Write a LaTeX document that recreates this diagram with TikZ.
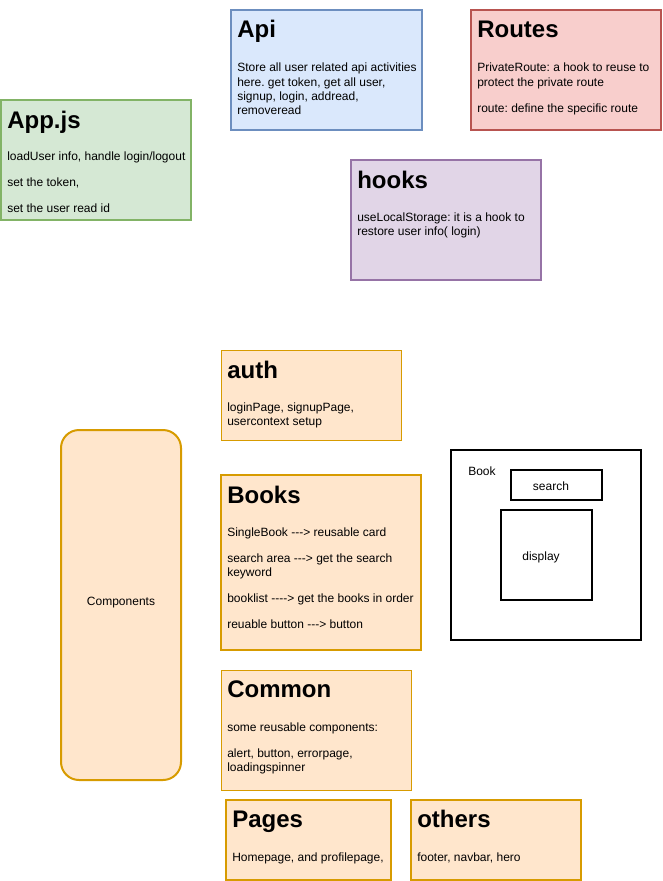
\documentclass[tikz,border=0pt]{standalone}
\usepackage{fontspec}
\setmainfont{Liberation Sans}
\usetikzlibrary{fit}
\frenchspacing
\definecolor{gfill}{HTML}{D5E8D4}\definecolor{gline}{HTML}{82B366}
\definecolor{bfill}{HTML}{DAE8FC}\definecolor{bline}{HTML}{6C8EBF}
\definecolor{rfill}{HTML}{F8CECC}\definecolor{rline}{HTML}{B85450}
\definecolor{pfill}{HTML}{E1D5E7}\definecolor{pline}{HTML}{9673A6}
\definecolor{ofill}{HTML}{FFE6CC}\definecolor{oline}{HTML}{D79B00}
\tikzset{
  box/.style={inner sep=0pt, outer sep=0pt, line width=1.5pt},
  thinbox/.style={inner sep=0pt, outer sep=0pt, line width=0.75pt},
  greenbox/.style={box, fill=gfill, draw=gline},
  bluebox/.style={box, fill=bfill, draw=bline},
  redbox/.style={box, fill=rfill, draw=rline},
  purplebox/.style={box, fill=pfill, draw=pline},
  orangebox/.style={box, fill=ofill, draw=oline},
  orangethin/.style={thinbox, fill=ofill, draw=oline},
  blackbox/.style={box, draw=black, fill=white},
  ttl/.style={anchor=base west, inner sep=0pt, font=\fontsize{18}{21.6}\selectfont\bfseries},
  txt/.style={anchor=base west, inner sep=0pt, font=\fontsize{9}{10.5}\selectfont},
  ctxt/.style={anchor=base, inner sep=0pt, font=\fontsize{9}{10.5}\selectfont},
}
\begin{document}
\frenchspacing
\begin{tikzpicture}[x=0.75pt, y=-0.75pt]
\useasboundingbox (0,0) rectangle (662,881);
% boxes
\node[greenbox, fit={(1,100) (191,220)}] (appbox) {};
\node[bluebox, fit={(231,10) (422,130)}] (apibox) {};
\node[redbox, fit={(471,10) (661,130)}] (routesbox) {};
\node[purplebox, fit={(351,160) (541,280)}] (hooksbox) {};
\node[orangethin, fit={(221,350) (401,440)}] (authbox) {};
\node[orangebox, fit={(221,475) (421,650)}] (booksbox) {};
\node[orangethin, fit={(221,670) (411,790)}] (commonbox) {};
\node[orangebox, fit={(226,800) (391,880)}] (pagesbox) {};
\node[orangebox, fit={(411,800) (581,880)}] (othersbox) {};
\node[orangebox, rounded corners=13.5pt, fit={(61,430) (181,780)}] (compbox) {};
\node[blackbox, fit={(451,450) (641,640)}] (bookframe) {};
\node[blackbox, fit={(511,470) (602,500)}] (searchbox) {};
\node[blackbox, fit={(501,510) (592,600)}] (displaybox) {};
% App.js
\node[ttl] (appt) at (7,128) {App.js};
\node[txt] (app1) at (7,160) {loadUser info, handle login/logout};
\node[txt] (app2) at (7,186) {set the token,};
\node[txt] (app3) at (7,212) {set the user read id};
% Api
\node[ttl] (apit) at (237,38) {Api};
\node[txt] (api1) at (237,72) {Store all user related api activities};
\node[txt] (api2) at (237,86) {here. get token, get all user,};
\node[txt] (api3) at (237,100) {signup, login, addread,};
\node[txt] (api4) at (237,114) {removeread};
% Routes
\node[ttl] (routest) at (477,38) {Routes};
\node[txt] (routes1) at (477,72) {PrivateRoute: a hook to reuse to};
\node[txt] (routes2) at (477,86) {protect the private route};
\node[txt] (routes3) at (477,112) {route: define the specific route};
% hooks
\node[ttl] (hookst) at (357,188) {hooks};
\node[txt] (hooks1) at (357,221) {useLocalStorage: it is a hook to};
\node[txt] (hooks2) at (357,235) {restore user info( login)};
% auth
\node[ttl] (autht) at (227,378) {auth};
\node[txt] (auth1) at (227,411) {loginPage, signupPage,};
\node[txt] (auth2) at (227,425) {usercontext setup};
% Books
\node[ttl] (bookst) at (227,503) {Books};
\node[txt] (books1) at (227,536) {SingleBook -{}-{}-> reusable card};
\node[txt] (books2) at (227,562) {search area -{}-{}-> get the search};
\node[txt] (books3) at (227,576) {keyword};
\node[txt] (books4) at (227,602) {booklist -{}-{}-{}-> get the books in order};
\node[txt] (books5) at (227,628) {reuable button -{}-{}-> button};
% Common
\node[ttl] (commont) at (227,697) {Common};
\node[txt] (common1) at (227,731) {some reusable components:};
\node[txt] (common2) at (227,757) {alert, button, errorpage,};
\node[txt] (common3) at (227,771) {loadingspinner};
% Pages
\node[ttl] (pagest) at (232,827) {Pages};
\node[txt] (pages1) at (232,861) {Homepage, and profilepage,};
% others
\node[ttl] (otherst) at (417,827) {others};
\node[txt] (others1) at (417,861) {footer, navbar, hero};
% Components
\node[ctxt] (complabel) at (121,605) {Components};
% Book frame
\node[txt] (booklabel) at (468,475) {Book};
\node[ctxt] (searchlabel) at (551,490) {search};
\node[ctxt] (displaylabel) at (541,560) {display};
\end{tikzpicture}
\end{document}
